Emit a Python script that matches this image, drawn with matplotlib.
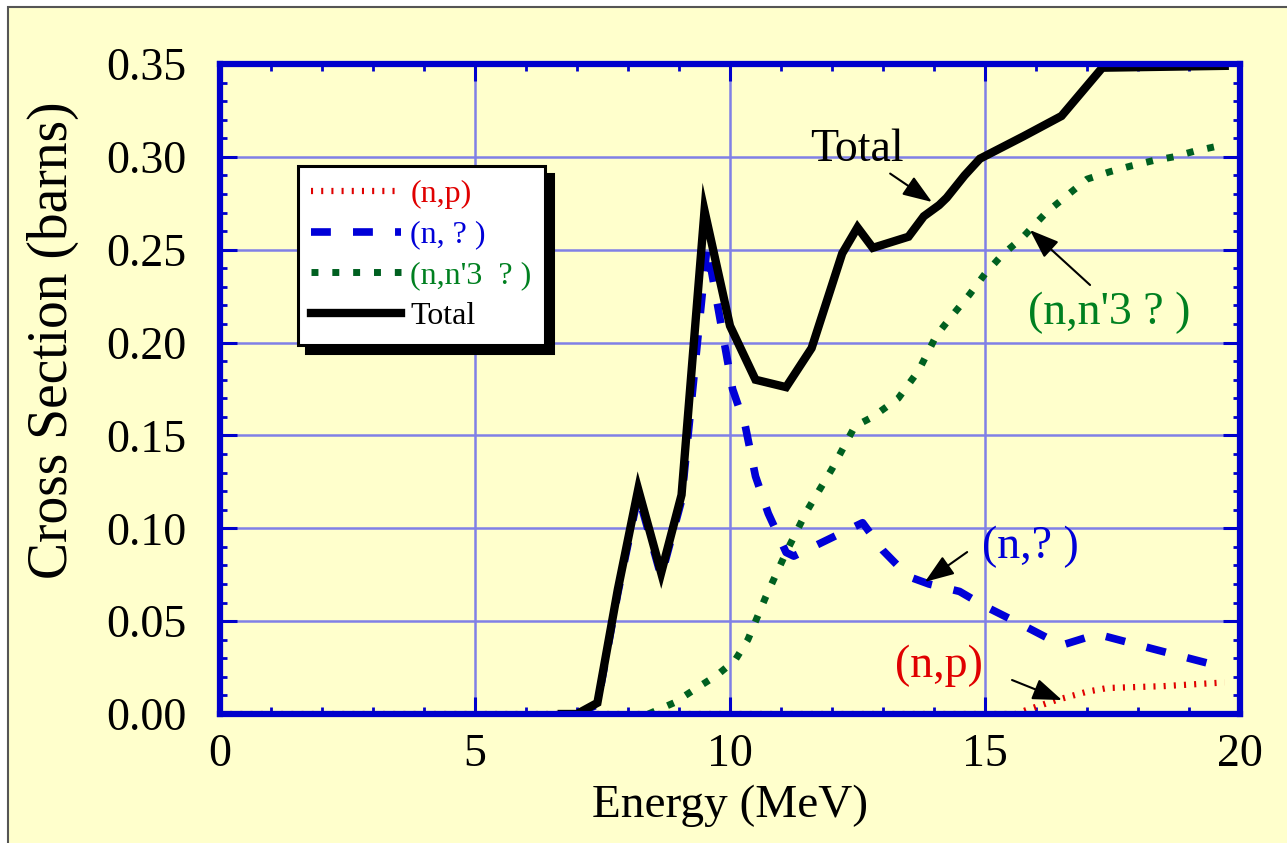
import matplotlib
matplotlib.use("Agg")
import matplotlib.pyplot as plt
from matplotlib.patches import Rectangle
from matplotlib.ticker import MultipleLocator, FormatStrFormatter

# ---- data ----
total_E = [6.7, 7.0, 7.4, 7.8, 8.2, 8.65, 9.05, 9.5, 10.0, 10.5, 11.1, 11.6, 12.2, 12.5,
           12.8, 13.5, 13.8, 14.1, 14.25, 14.6, 14.9, 15.75, 16.5, 17.3, 19.7]
total_xs = [0.0, 0.0, 0.006, 0.067, 0.121, 0.076, 0.118, 0.271, 0.209, 0.180, 0.176, 0.197,
            0.248, 0.262, 0.251, 0.257, 0.268, 0.274, 0.278, 0.290, 0.299, 0.311, 0.322,
            0.348, 0.349]

ng_E = [7.0, 7.4, 7.8, 8.2, 8.65, 9.05, 9.55, 10.05, 10.3, 10.5, 10.75, 11.1, 11.25, 12.6,
        13.0, 13.5, 13.9, 14.2, 14.5, 15.0, 15.8, 16.5, 17.2, 18.3, 19.7]
ng_xs = [0.0, 0.005, 0.065, 0.118, 0.074, 0.115, 0.252, 0.175, 0.155, 0.128, 0.108, 0.087,
         0.085, 0.103, 0.088, 0.074, 0.070, 0.068, 0.066, 0.058, 0.047, 0.037, 0.043, 0.035,
         0.025]

n3a_E = [8.4, 8.9, 9.35, 9.75, 10.1, 10.35, 10.7, 11.1, 11.5, 12.0, 12.45, 12.8, 13.3, 13.7,
         14.05, 14.4, 14.7, 15.0, 15.33, 15.75, 16.2, 16.6, 17.0, 17.45, 17.85, 18.3, 18.7,
         19.1, 19.6]
n3a_xs = [0.0, 0.006, 0.014, 0.021, 0.029, 0.040, 0.063, 0.087, 0.109, 0.132, 0.155, 0.160,
          0.170, 0.185, 0.204, 0.216, 0.226, 0.237, 0.247, 0.257, 0.270, 0.279, 0.288, 0.292,
          0.295, 0.298, 0.300, 0.303, 0.306]

np_E = [0.0, 15.6, 15.8, 16.4, 17.0, 17.4, 18.5, 19.7]
np_xs = [0.0, 0.0, 0.002, 0.0075, 0.012, 0.014, 0.015, 0.017]

x_ticks = [0, 5, 10, 15, 20]
y_ticks = [0.00, 0.05, 0.10, 0.15, 0.20, 0.25, 0.30, 0.35]

# ---- style ----
BG = "#FFFFCC"
AXBLUE = "#0000CC"
GRID = "#8080E6"
RED = "#E00000"
BLUE = "#0000D8"
GREEN = "#006020"
GREEN_TXT = "#008020"
FONT = "Liberation Serif"
plt.rcParams["font.family"] = [FONT, "DejaVu Serif"]

fig = plt.figure(figsize=(12.87, 8.43), dpi=100, facecolor="white")
W, H = 1287, 843
fig.patches.append(Rectangle((8 / W, -0.1), 1.2, 1 - 7 / H + 0.1, transform=fig.transFigure,
                             facecolor=BG, edgecolor="#555555", lw=1.5, zorder=-10))

ax = fig.add_axes([220 / W, 1 - 714 / H, 1020 / W, 650 / H])
ax.set_facecolor(BG)
ax.set_xlim(0, 20)
ax.set_ylim(0, 0.35)

ax.set_xticks(x_ticks)
ax.set_yticks(y_ticks)
ax.xaxis.set_minor_locator(MultipleLocator(1))
ax.yaxis.set_minor_locator(MultipleLocator(0.01))
ax.yaxis.set_major_formatter(FormatStrFormatter("%.2f"))
ax.tick_params(which="both", direction="in", top=True, right=True, color=AXBLUE,
               labelsize=33, labelcolor="black")
ax.tick_params(which="major", length=12, width=2.2)
ax.tick_params(which="minor", length=5, width=2)
ax.tick_params(axis="y", pad=24)
ax.tick_params(axis="x", pad=14)
for s in ax.spines.values():
    s.set_color(AXBLUE)
    s.set_linewidth(4.5)
    s.set_zorder(5)
ax.grid(True, which="major", color=GRID, lw=1.8, zorder=0)
ax.set_axisbelow(True)

ax.set_xlabel("Energy (MeV)", fontsize=34, labelpad=6)
ax.set_ylabel("Cross Section (barns)", fontsize=40)
ax.yaxis.set_label_coords(-0.138, (714 - 340) / 650)

l_np, = ax.plot(np_E, np_xs, color=RED, lw=4.5, label="(n,p)", zorder=3)
l_np.set_dashes((0.33, 1.3))
l_ng, = ax.plot(ng_E, ng_xs, color=BLUE, lw=5.5, label="(n, ? )", zorder=3)
l_ng.set_dashes((2.6, 2.9))
l_na, = ax.plot(n3a_E, n3a_xs, color=GREEN, lw=5, label="(n,n'3  ? )", zorder=3)
l_na.set_dashes((1, 2))
l_t, = ax.plot(total_E, total_xs, color="black", lw=6, label="Total", zorder=4,
               solid_joinstyle="miter")

leg = ax.legend(handles=[l_np, l_ng, l_na, l_t], loc="upper left",
                bbox_to_anchor=(0.0765, 0.843), borderaxespad=0, fontsize=23,
                handlelength=2.8, handletextpad=0.3, borderpad=0.42, labelspacing=0.36,
                fancybox=False, frameon=True, framealpha=1, edgecolor="black",
                facecolor="white",
                shadow={"ox": 6, "oy": -6, "color": "black", "alpha": 1, "shade": 0})
leg.get_frame().set_linewidth(2.2)
leg.set_zorder(6)
for t, c in zip(leg.get_texts(), [RED, BLUE, GREEN_TXT, "black"]):
    t.set_color(c)

arrow = dict(arrowstyle="-|>,head_length=0.6,head_width=0.22", color="black", lw=1.5,
             mutation_scale=30, shrinkA=0, shrinkB=0)

ax.text(11.57, 0.298, "Total", fontsize=33, color="black", ha="left", va="baseline")
ax.annotate("", xy=(13.96, 0.2757), xytext=(13.14, 0.291), arrowprops=arrow)

ax.text(15.84, 0.210, "(n,n'3 ? )", fontsize=33, color=GREEN_TXT, ha="left", va="baseline")
ax.annotate("", xy=(15.88, 0.2606), xytext=(17.06, 0.231), arrowprops=arrow)

ax.text(14.94, 0.084, "(n,? )", fontsize=33, color=BLUE, ha="left", va="baseline")
ax.annotate("", xy=(13.82, 0.0711), xytext=(14.65, 0.0872), arrowprops=arrow)

ax.text(13.24, 0.0199, "(n,p)", fontsize=33, color=RED, ha="left", va="baseline")
ax.annotate("", xy=(16.51, 0.0075), xytext=(15.53, 0.0183), arrowprops=arrow)

fig.savefig("out.png", dpi=100, facecolor="white")
